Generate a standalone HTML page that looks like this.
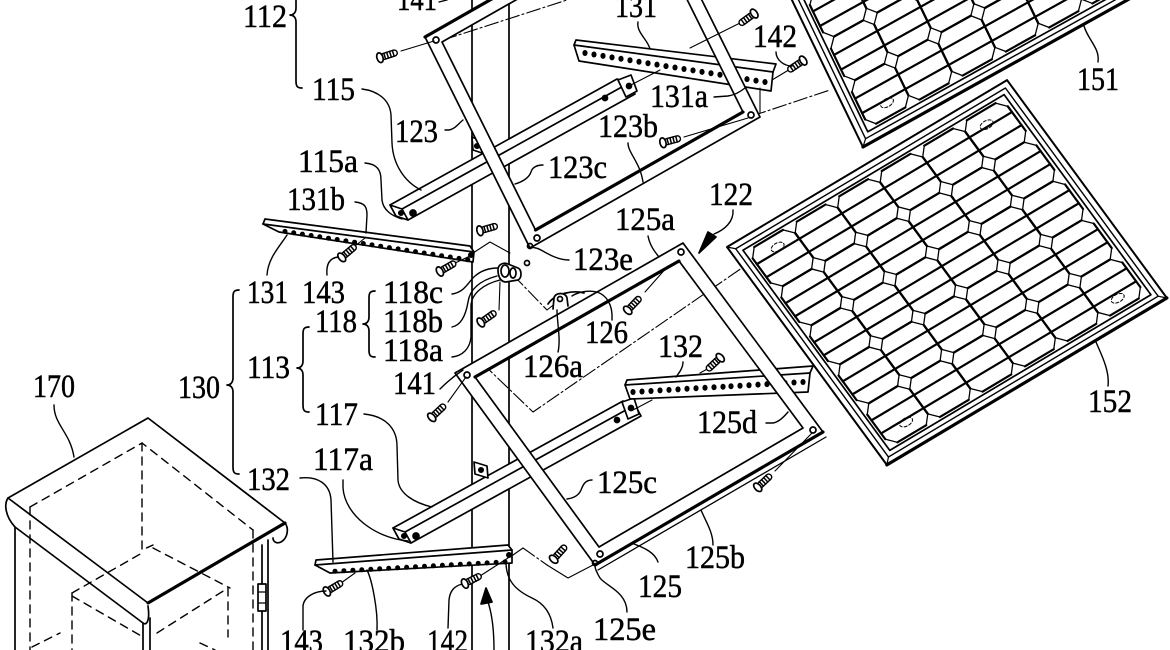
<!DOCTYPE html>
<html><head><meta charset="utf-8">
<style>
html,body{margin:0;padding:0;background:#fff;}
svg{display:block;}
text{font-family:"Liberation Serif","DejaVu Serif",serif;font-size:33px;fill:#000;stroke:#000;stroke-width:0.5;}
</style></head>
<body>
<svg width="1170" height="650" viewBox="0 0 1170 650" xmlns="http://www.w3.org/2000/svg">
<defs>
 <g id="cell">
  <path d="M8,0 H41.5 M49.5,9 V39.4 M41.5,48.4 H8 M0,39.4 V9" fill="none" stroke="#000" stroke-width="2.2" vector-effect="non-scaling-stroke"/>
  <path d="M0,9 L8,0 M41.5,0 L49.5,9 M49.5,39.4 L41.5,48.4 M8,48.4 L0,39.4" fill="none" stroke="#000" stroke-width="1.3" vector-effect="non-scaling-stroke"/>
 </g>
 <g id="panel">
  <rect x="0" y="0" width="326" height="270" fill="#fff" stroke="#000" stroke-width="2" vector-effect="non-scaling-stroke"/>
  <rect x="6" y="6" width="314" height="258" fill="none" stroke="#000" stroke-width="1.4" vector-effect="non-scaling-stroke"/>
  <rect x="11" y="11" width="304" height="248" fill="none" stroke="#000" stroke-width="1.7" vector-effect="non-scaling-stroke"/>
  <path d="M0,270 H326" fill="none" stroke="#000" stroke-width="3.2" vector-effect="non-scaling-stroke"/>
  <path d="M0,270 L6,264 M326,270 L320,264 M0,0 L6,6" fill="none" stroke="#000" stroke-width="1.2" vector-effect="non-scaling-stroke"/>
  <path d="M14,30.1 H311 M14,46.3 H311 M14,78.5 H311 M14,94.7 H311 M14,126.9 H311 M14,143.1 H311 M14,175.3 H311 M14,191.5 H311 M14,223.7 H311 M14,239.9 H311" fill="none" stroke="#000" stroke-width="2.2" vector-effect="non-scaling-stroke"/>
  <use href="#cell" x="14" y="14"/><use href="#cell" x="63.5" y="14"/><use href="#cell" x="113" y="14"/><use href="#cell" x="162.5" y="14"/><use href="#cell" x="212" y="14"/><use href="#cell" x="261.5" y="14"/>
  <use href="#cell" x="14" y="62.4"/><use href="#cell" x="63.5" y="62.4"/><use href="#cell" x="113" y="62.4"/><use href="#cell" x="162.5" y="62.4"/><use href="#cell" x="212" y="62.4"/><use href="#cell" x="261.5" y="62.4"/>
  <use href="#cell" x="14" y="110.8"/><use href="#cell" x="63.5" y="110.8"/><use href="#cell" x="113" y="110.8"/><use href="#cell" x="162.5" y="110.8"/><use href="#cell" x="212" y="110.8"/><use href="#cell" x="261.5" y="110.8"/>
  <use href="#cell" x="14" y="159.2"/><use href="#cell" x="63.5" y="159.2"/><use href="#cell" x="113" y="159.2"/><use href="#cell" x="162.5" y="159.2"/><use href="#cell" x="212" y="159.2"/><use href="#cell" x="261.5" y="159.2"/>
  <use href="#cell" x="14" y="207.6"/><use href="#cell" x="63.5" y="207.6"/><use href="#cell" x="113" y="207.6"/><use href="#cell" x="162.5" y="207.6"/><use href="#cell" x="212" y="207.6"/><use href="#cell" x="261.5" y="207.6"/>
  <ellipse cx="41" cy="26" rx="7" ry="4" fill="none" stroke="#000" stroke-width="1" stroke-dasharray="3,2" vector-effect="non-scaling-stroke"/>
  <ellipse cx="283" cy="28" rx="7" ry="4" fill="none" stroke="#000" stroke-width="1" stroke-dasharray="3,2" vector-effect="non-scaling-stroke"/>
  <ellipse cx="286" cy="245" rx="7" ry="4" fill="none" stroke="#000" stroke-width="1" stroke-dasharray="3,2" vector-effect="non-scaling-stroke"/>
  <ellipse cx="41" cy="243" rx="7" ry="4" fill="none" stroke="#000" stroke-width="1" stroke-dasharray="3,2" vector-effect="non-scaling-stroke"/>
 </g>
 <g id="scr" stroke="#000" fill="#fff">
  <rect x="2" y="-3" width="17" height="6" rx="3" stroke-width="1.4"/>
  <path d="M6,-3 V3 M9,-3 V3 M12,-3 V3 M15,-3 V3" stroke-width="1.5" fill="none"/>
  <ellipse cx="1" cy="0" rx="3" ry="5" stroke-width="1.7"/>
 </g>
</defs>

<g fill="none" stroke="#000" stroke-width="1.7" stroke-linecap="round" stroke-linejoin="round">

<!-- pole -->
<path d="M472,0 V650 M509,0 V650"/>

<!-- dash-dot axis lines -->
<g stroke-width="1.1" stroke-dasharray="14,3,2,3">
 <path d="M443,40 L567,0"/>
 <path d="M752,116 L830,90"/>
 <path d="M482,363 L533,412 L768,250"/>
 <path d="M513,275 L547,310 L557,302"/>
 <path d="M523,548 L547,565"/>
</g>
<g stroke-width="1.1">
 <path d="M473,253 L490,242 L510,253"/>
 <path d="M513,555 L523,548"/>
 <path d="M547,565 L568,578 L593,565"/>
</g>

<!-- arm 115 -->
<path d="M390,205 L617,79 L629,83 L635,94 L408,220 L396,216 Z" fill="#fff"/>
<path d="M402,209 L629,83"/>
<path d="M390,205 L402,209 L408,220 L396,216 Z" fill="#fff"/>
<circle cx="401" cy="213" r="2.2" fill="#000"/>
<circle cx="413" cy="213" r="3" fill="#000"/>
<path d="M618,80 L631,75 L637,91 L626,97 Z" fill="#fff"/>
<circle cx="629" cy="86" r="2.5" fill="#000"/>
<circle cx="605" cy="98" r="2.5" fill="#000"/>

<!-- arm 117 -->
<path d="M393,528 L623,401 L635,405 L641,416 L411,543 L399,539 Z" fill="#fff"/>
<path d="M405,532 L635,405"/>
<path d="M393,528 L405,532 L411,543 L399,539 Z" fill="#fff"/>
<circle cx="404" cy="536" r="2.2" fill="#000"/>
<circle cx="416" cy="536" r="3" fill="#000"/>
<path d="M622,402 L634,398 L639,414 L628,419 Z" fill="#fff"/>
<circle cx="631" cy="408" r="2.5" fill="#000"/>
<circle cx="617" cy="420" r="2.5" fill="#000"/>

<!-- pole brackets -->
<path d="M472,137 L481,141 L482,153 L473,150 Z" fill="#fff"/>
<circle cx="477" cy="146" r="2.2" fill="#000"/>
<path d="M474,462 L487,466 L488,478 L475,474 Z" fill="#fff"/>
<circle cx="481" cy="470" r="2.2" fill="#000"/>

<!-- rail 131 (upper) -->
<path d="M576,40 L776,64 L773,72 L771,91 L579,61 L574,45 Z" fill="#fff"/>
<path d="M574,45 L773,72"/>
<g fill="#000" stroke="none">
 <ellipse cx="585" cy="53" rx="2.6" ry="3"/><ellipse cx="594" cy="54.5" rx="2.6" ry="3"/><ellipse cx="603" cy="55.9" rx="2.6" ry="3"/><ellipse cx="612" cy="57.4" rx="2.6" ry="3"/><ellipse cx="621" cy="58.8" rx="2.6" ry="3"/><ellipse cx="630" cy="60.3" rx="2.6" ry="3"/><ellipse cx="639" cy="61.7" rx="2.6" ry="3"/><ellipse cx="648" cy="63.2" rx="2.6" ry="3"/><ellipse cx="657" cy="64.6" rx="2.6" ry="3"/><ellipse cx="666" cy="66.1" rx="2.6" ry="3"/><ellipse cx="675" cy="67.5" rx="2.6" ry="3"/><ellipse cx="684" cy="69" rx="2.6" ry="3"/><ellipse cx="693" cy="70.4" rx="2.6" ry="3"/><ellipse cx="702" cy="71.9" rx="2.6" ry="3"/><ellipse cx="711" cy="73.3" rx="2.6" ry="3"/><ellipse cx="720" cy="74.8" rx="2.6" ry="3"/><ellipse cx="729" cy="76.2" rx="2.6" ry="3"/><ellipse cx="738" cy="77.7" rx="2.6" ry="3"/><ellipse cx="747" cy="79.1" rx="2.6" ry="3"/><ellipse cx="756" cy="80.6" rx="2.6" ry="3"/><ellipse cx="765" cy="82" rx="2.6" ry="3"/>
</g>

<!-- rail 132 (upper right) -->
<path d="M627,380 L813,366 L810,373 L808,392 L630,399 L625,385 Z" fill="#fff"/>
<path d="M625,385 L810,373"/>
<g fill="#000" stroke="none">
 <ellipse cx="633" cy="392" rx="2.6" ry="3"/><ellipse cx="642" cy="391.5" rx="2.6" ry="3"/><ellipse cx="651" cy="391" rx="2.6" ry="3"/><ellipse cx="660" cy="390.4" rx="2.6" ry="3"/><ellipse cx="669" cy="389.9" rx="2.6" ry="3"/><ellipse cx="678" cy="389.4" rx="2.6" ry="3"/><ellipse cx="687" cy="388.8" rx="2.6" ry="3"/><ellipse cx="696" cy="388.3" rx="2.6" ry="3"/><ellipse cx="705" cy="387.8" rx="2.6" ry="3"/><ellipse cx="714" cy="387.3" rx="2.6" ry="3"/><ellipse cx="723" cy="386.7" rx="2.6" ry="3"/><ellipse cx="731" cy="386.2" rx="2.6" ry="3"/><ellipse cx="740" cy="385.7" rx="2.6" ry="3"/><ellipse cx="749" cy="385.2" rx="2.6" ry="3"/><ellipse cx="758" cy="384.6" rx="2.6" ry="3"/><ellipse cx="767" cy="384.1" rx="2.6" ry="3"/><ellipse cx="776" cy="383.6" rx="2.6" ry="3"/><ellipse cx="785" cy="383" rx="2.6" ry="3"/><ellipse cx="794" cy="382.5" rx="2.6" ry="3"/><ellipse cx="803" cy="382" rx="2.6" ry="3"/>
</g>

<!-- frame 123 -->
<path fill="#fff" fill-rule="evenodd" d="M425,37 L655,-94 L760,117 L530,248 Z M442,42 L649.5,-76 L743,112 L535.5,230 Z"/>
<path d="M425,37 L655,-94" stroke-width="3.2"/>
<path d="M535.5,230 L743,112" stroke-width="3.2"/>
<circle cx="436" cy="40" r="3"/>
<circle cx="537" cy="238" r="3"/>
<circle cx="751" cy="115" r="3"/>
<circle cx="530" cy="246" r="2.5"/>
<circle cx="527" cy="263" r="2.5"/>

<!-- frame 125 -->
<path fill="#fff" fill-rule="evenodd" d="M455,373 L683,243 L823,432 L595,565 Z M475,377 L679,261 L803,428 L599,547 Z"/>
<path d="M475,377 L679,261" stroke-width="3.2"/>
<path d="M595,565 L823,432" stroke-width="3.2"/>
<path d="M598,570 L826,437" stroke-width="1.3"/>
<circle cx="467" cy="375" r="3"/>
<circle cx="681" cy="252" r="3"/>
<circle cx="813" cy="430" r="3"/>
<circle cx="600" cy="554" r="3"/>
<circle cx="595" cy="563" r="2.5"/>

<!-- rail 131b -->
<path d="M265,219 L470,246 L474,252 L473,262 L279,232 L263,224 Z" fill="#fff"/>
<path d="M263,224 L474,252"/>
<g fill="#000" stroke="none">
 <circle cx="285" cy="231.4" r="2.5"/><circle cx="293.7" cy="232.8" r="2.5"/><circle cx="302.4" cy="234.1" r="2.5"/><circle cx="311.1" cy="235.5" r="2.5"/><circle cx="319.8" cy="236.8" r="2.5"/><circle cx="328.5" cy="238.2" r="2.5"/><circle cx="337.2" cy="239.5" r="2.5"/><circle cx="345.9" cy="240.9" r="2.5"/><circle cx="354.6" cy="242.2" r="2.5"/><circle cx="363.3" cy="243.5" r="2.5"/><circle cx="372" cy="244.9" r="2.5"/><circle cx="380.7" cy="246.2" r="2.5"/><circle cx="389.4" cy="247.6" r="2.5"/><circle cx="398.1" cy="248.9" r="2.5"/><circle cx="406.8" cy="250.3" r="2.5"/><circle cx="415.5" cy="251.6" r="2.5"/><circle cx="424.2" cy="253" r="2.5"/><circle cx="432.9" cy="254.3" r="2.5"/><circle cx="441.6" cy="255.7" r="2.5"/><circle cx="450.3" cy="257" r="2.5"/><circle cx="459" cy="258.4" r="2.5"/><circle cx="467.7" cy="259.7" r="2.5"/>
 <circle cx="471" cy="255" r="3"/>
</g>

<!-- rail 132b -->
<path d="M316,560 L508,545 L512,550 L512,563 L330,573 L315,565 Z" fill="#fff"/>
<path d="M315,565 L512,550"/>
<g fill="#000" stroke="none">
 <circle cx="335" cy="571.2" r="2.5"/><circle cx="343.9" cy="570.7" r="2.5"/><circle cx="352.9" cy="570.2" r="2.5"/><circle cx="361.8" cy="569.8" r="2.5"/><circle cx="370.8" cy="569.3" r="2.5"/><circle cx="379.7" cy="568.8" r="2.5"/><circle cx="388.7" cy="568.3" r="2.5"/><circle cx="397.6" cy="567.8" r="2.5"/><circle cx="406.6" cy="567.3" r="2.5"/><circle cx="415.5" cy="566.8" r="2.5"/><circle cx="424.5" cy="566.3" r="2.5"/><circle cx="433.4" cy="565.8" r="2.5"/><circle cx="442.4" cy="565.3" r="2.5"/><circle cx="451.3" cy="564.8" r="2.5"/><circle cx="460.3" cy="564.3" r="2.5"/><circle cx="469.2" cy="563.9" r="2.5"/><circle cx="478.2" cy="563.4" r="2.5"/><circle cx="487.1" cy="562.9" r="2.5"/><circle cx="496.1" cy="562.4" r="2.5"/><circle cx="505" cy="561.9" r="2.5"/>
 <circle cx="509" cy="555" r="3"/>
</g>

<!-- brackets 118 / 126 -->
<path d="M498,270 C498,264 504,262 508,264 L518,268 C522,270 522,278 518,280 L506,282 C501,282 498,277 498,270 Z" fill="#fff"/>
<ellipse cx="505" cy="271" rx="4" ry="6" fill="#fff"/>
<ellipse cx="513" cy="273" rx="3" ry="5" fill="#fff"/>
<path d="M548,304 C555,293 574,290 584,293"/>
<path d="M553,309 L554,298 C555,292 566,292 567,298 L568,306" fill="#fff"/>
<circle cx="560" cy="299" r="2.5"/>

<!-- thin connecting lines -->
<g stroke-width="1.1">
 <path d="M401,51 L434,41"/>
 <path d="M744,21 L690,48"/>
 <path d="M792,68 L772,80"/>
 <path d="M684,137 L748,118"/>
 <path d="M355,246 L365,238"/>
 <path d="M453,264 L470,256"/>
 <path d="M448,402 L466,377"/>
 <path d="M645,292 L668,266"/>
 <path d="M709,368 L700,373"/>
 <path d="M775,471 L812,433"/>
 <path d="M480,576 L508,558"/>
 <path d="M341,583 L355,573"/>
 <path d="M500,282 L499,310"/>
 <path d="M760,88 V113"/>
 <path d="M629,86 L660,70"/>
 <path d="M633,410 L652,400"/>
</g>

<!-- screws -->
<use href="#scr" transform="translate(379,58) rotate(-18)"/>
<use href="#scr" transform="translate(755,13) rotate(144)"/>
<use href="#scr" transform="translate(804,60) rotate(146)"/>
<use href="#scr" transform="translate(662,143) rotate(-15)"/>
<use href="#scr" transform="translate(341,258) rotate(-40)"/>
<use href="#scr" transform="translate(479,231) rotate(-16)"/>
<use href="#scr" transform="translate(439,272) rotate(-30)"/>
<use href="#scr" transform="translate(480,323) rotate(-35)"/>
<use href="#scr" transform="translate(431,418) rotate(-43)"/>
<use href="#scr" transform="translate(627,311) rotate(-46)"/>
<use href="#scr" transform="translate(721,357) rotate(137)"/>
<use href="#scr" transform="translate(757,488) rotate(-43)"/>
<use href="#scr" transform="translate(553,560) rotate(-48)"/>
<use href="#scr" transform="translate(464,584) rotate(-27)"/>
<use href="#scr" transform="translate(326,592) rotate(-31)"/>

<!-- solar panels -->
<use href="#panel" transform="matrix(0.874,-0.486,0.435,0.900,745.5,-96)"/>
<use href="#panel" transform="matrix(0.859,-0.512,0.592,0.807,727,247)"/>

<!-- cabinet 170 -->
<path d="M148,418 L285,523 L148,603 L8,498 Z" fill="#fff"/>
<path d="M148,603 L285,523" stroke-width="3.2"/>
<path d="M8,498 C4,504 5,516 15,527 L143,623 C147,626 150,620 148,606"/>
<path d="M285,523 C289,528 288,538 281,542 C277,544 273,542 273,538"/>
<path d="M15,527 V650 M143,623 V650 M150,618 V650 M262,545 V650 M268,540 V650"/>
<rect x="258" y="584" width="8" height="27" fill="#fff"/>
<path d="M258,592 H266 M258,603 H266" stroke-width="1.2"/>
<g stroke-width="1.4" stroke-dasharray="8,6">
 <path d="M30,507 L142,443 L253,530"/>
 <path d="M30,507 V650"/>
 <path d="M142,443 V550 L153,545"/>
 <path d="M153,548 L230,588"/>
 <path d="M72,593 L142,553"/>
 <path d="M72,593 V650"/>
 <path d="M72,596 L143,637"/>
 <path d="M157,633 L228,588 V637"/>
 <path d="M253,530 V650"/>
 <path d="M200,643 L215,650"/>
 <path d="M32,647 L60,633"/>
</g>

<!-- braces -->
<path d="M302,-12 C297,-12 296,-10 296,-5 L296,8 C296,13 293,15 290,15 C293,15 296,17 296,22 L296,81 C296,86 297,88 302,88"/>
<path d="M239,290 C234,290 233,292 233,297 L233,378 C233,383 230,385 227,385 C230,385 233,387 233,392 L233,467 C233,472 234,474 239,474"/>
<path d="M309,327 C304,327 303,329 303,334 L303,361 C303,366 300,368 297,368 C300,368 303,370 303,375 L303,405 C303,410 304,412 309,412"/>
<path d="M375,291 C370,291 369,293 369,298 L369,317 C369,322 366,324 363,324 C366,324 369,326 369,331 L369,350 C369,355 370,357 375,357"/>

<!-- leaders -->
<g stroke-width="1.4">
 <path d="M439,2 L447,0"/>
 <path d="M638,22 C636,32 648,40 650,49"/>
 <path d="M776,52 C776,60 784,66 792,66"/>
 <path d="M1098,62 C1100,48 1088,40 1084,26"/>
 <path d="M362,89 C378,91 390,100 391,115 L392,143 C393,165 405,182 421,190"/>
 <path d="M714,97 L728,96 C735,95 740,92 745,88"/>
 <path d="M445,130 L449,130 C455,129 458,124 463,120"/>
 <path d="M628,143 C628,153 640,162 643,182"/>
 <path d="M365,163 C377,164 381,170 381,180 L382,200 C383,210 392,216 402,219"/>
 <path d="M543,165 C536,165 532,168 531,172 C529,178 522,182 515,184"/>
 <path d="M733,210 C734,222 724,230 714,234"/>
 <path d="M355,202 C365,203 367,207 367,215 L366,233"/>
 <path d="M648,236 C650,246 655,252 659,257"/>
 <path d="M569,260 C558,260 548,254 541,250 C536,247 533,248 531,247"/>
 <path d="M267,275 C268,258 280,246 287,235"/>
 <path d="M327,275 C326,264 330,258 338,257"/>
 <path d="M452,294 C465,292 468,282 475,276 C482,270 490,268 498,268"/>
 <path d="M452,327 C462,325 466,314 468,302 C470,288 482,280 497,276"/>
 <path d="M452,357 C462,356 470,349 471,337 L471,305 C472,293 484,284 500,280"/>
 <path d="M612,320 C613,304 606,295 597,292 C588,290 578,292 572,296"/>
 <path d="M558,352 C561,340 557,322 557,310"/>
 <path d="M683,362 C683,368 679,373 676,377"/>
 <path d="M440,389 C447,382 454,376 463,370"/>
 <path d="M1108,386 C1110,370 1100,352 1096,342"/>
 <path d="M54,405 C54,425 70,432 74,457"/>
 <path d="M364,414 C385,416 397,428 397,446 L398,480 C399,494 415,503 432,507"/>
 <path d="M766,423 L772,423 C777,423 783,418 788,412"/>
 <path d="M343,480 L343,488 C345,515 375,538 408,541"/>
 <path d="M300,478 C318,476 330,484 331,500 L333,562"/>
 <path d="M592,480 C585,480 583,485 581,490 C579,495 574,498 567,499"/>
 <path d="M713,545 C713,532 706,522 701,510"/>
 <path d="M658,562 C655,553 645,548 634,544"/>
 <path d="M627,612 C627,592 606,586 600,578 C597,573 595,569 595,566"/>
 <path d="M303,630 L303,606 C304,596 316,591 326,591"/>
 <path d="M377,630 C378,610 372,580 367,570"/>
 <path d="M448,628 L449,600 C450,590 455,586 462,584"/>
 <path d="M553,628 C551,612 543,603 532,598 C515,590 506,580 506,562"/>
 <path d="M494,650 C494,630 492,614 488,602"/>
</g>
<path d="M699,253 L708,232 L716,237 Z" fill="#000"/>
<path d="M486,588 L481,604 L492,602 Z" fill="#000"/>
</g>

<!-- labels -->
<g>
<text x="397" y="10" textLength="40" lengthAdjust="spacingAndGlyphs">141</text>
<text x="243" y="27" textLength="44" lengthAdjust="spacingAndGlyphs">112</text>
<text x="615" y="17" textLength="42" lengthAdjust="spacingAndGlyphs">131</text>
<text x="753" y="47" textLength="44" lengthAdjust="spacingAndGlyphs">142</text>
<text x="1077" y="90" textLength="42" lengthAdjust="spacingAndGlyphs">151</text>
<text x="312" y="100" textLength="43" lengthAdjust="spacingAndGlyphs">115</text>
<text x="650" y="107" textLength="58" lengthAdjust="spacingAndGlyphs">131a</text>
<text x="395" y="142" textLength="43" lengthAdjust="spacingAndGlyphs">123</text>
<text x="598" y="137" textLength="60" lengthAdjust="spacingAndGlyphs">123b</text>
<text x="298" y="172" textLength="60" lengthAdjust="spacingAndGlyphs">115a</text>
<text x="548" y="178" textLength="59" lengthAdjust="spacingAndGlyphs">123c</text>
<text x="709" y="205" textLength="44" lengthAdjust="spacingAndGlyphs">122</text>
<text x="287" y="210" textLength="58" lengthAdjust="spacingAndGlyphs">131b</text>
<text x="615" y="230" textLength="60" lengthAdjust="spacingAndGlyphs">125a</text>
<text x="573" y="270" textLength="60" lengthAdjust="spacingAndGlyphs">123e</text>
<text x="247" y="303" textLength="41" lengthAdjust="spacingAndGlyphs">131</text>
<text x="302" y="303" textLength="43" lengthAdjust="spacingAndGlyphs">143</text>
<text x="383" y="303" textLength="60" lengthAdjust="spacingAndGlyphs">118c</text>
<text x="315" y="332" textLength="42" lengthAdjust="spacingAndGlyphs">118</text>
<text x="383" y="332" textLength="60" lengthAdjust="spacingAndGlyphs">118b</text>
<text x="585" y="343" textLength="43" lengthAdjust="spacingAndGlyphs">126</text>
<text x="383" y="361" textLength="60" lengthAdjust="spacingAndGlyphs">118a</text>
<text x="658" y="357" textLength="45" lengthAdjust="spacingAndGlyphs">132</text>
<text x="523" y="377" textLength="60" lengthAdjust="spacingAndGlyphs">126a</text>
<text x="247" y="378" textLength="43" lengthAdjust="spacingAndGlyphs">113</text>
<text x="393" y="394" textLength="43" lengthAdjust="spacingAndGlyphs">141</text>
<text x="178" y="398" textLength="42" lengthAdjust="spacingAndGlyphs">130</text>
<text x="33" y="397" textLength="42" lengthAdjust="spacingAndGlyphs">170</text>
<text x="1088" y="412" textLength="44" lengthAdjust="spacingAndGlyphs">152</text>
<text x="315" y="425" textLength="43" lengthAdjust="spacingAndGlyphs">117</text>
<text x="697" y="433" textLength="60" lengthAdjust="spacingAndGlyphs">125d</text>
<text x="313" y="470" textLength="60" lengthAdjust="spacingAndGlyphs">117a</text>
<text x="247" y="490" textLength="43" lengthAdjust="spacingAndGlyphs">132</text>
<text x="597" y="493" textLength="60" lengthAdjust="spacingAndGlyphs">125c</text>
<text x="685" y="568" textLength="60" lengthAdjust="spacingAndGlyphs">125b</text>
<text x="638" y="597" textLength="44" lengthAdjust="spacingAndGlyphs">125</text>
<text x="593" y="640" textLength="63" lengthAdjust="spacingAndGlyphs">125e</text>
<text x="280" y="652" textLength="43" lengthAdjust="spacingAndGlyphs">143</text>
<text x="343" y="652" textLength="62" lengthAdjust="spacingAndGlyphs">132b</text>
<text x="427" y="652" textLength="41" lengthAdjust="spacingAndGlyphs">142</text>
<text x="525" y="652" textLength="58" lengthAdjust="spacingAndGlyphs">132a</text>
</g>
</svg>
</body></html>
